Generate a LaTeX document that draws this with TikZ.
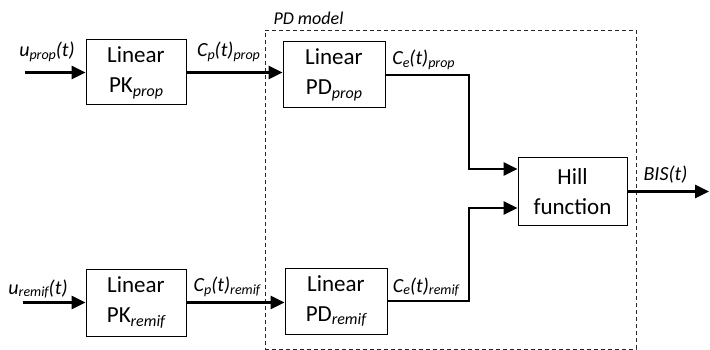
\documentclass[tikz,border=0pt]{standalone}
\usepackage{fontspec}
\setmainfont{Carlito}
\usetikzlibrary{arrows.meta}
\newcommand{\bsub}[1]{\raisebox{-0.35ex}{\fontsize{16}{16}\selectfont\itshape #1}}
\newcommand{\lsub}[1]{\raisebox{-0.3ex}{\fontsize{14}{14}\selectfont #1}}
\begin{document}
\begin{tikzpicture}[x=1pt,y=-1pt,
  blk/.style={draw, line width=1pt, align=center, inner sep=0pt,
    font=\fontsize{23}{30}\selectfont},
  lab/.style={font=\fontsize{20}{24}\selectfont\itshape, inner sep=0pt},
  sig/.style={line width=2.9pt, -{Triangle[length=14pt,width=13pt]}},
  grp/.style={draw=black!85, line width=0.9pt, dash pattern=on 4pt off 3pt, inner sep=0pt}]
\useasboundingbox (0,0) rectangle (710,350);

% PD model group
\node[grp, minimum width=371pt, minimum height=319pt] (pdm) at (450.5,189.5) {};
\node[lab, font=\fontsize{18}{22}\selectfont\itshape] (pdlab) at (308.5,18) {PD model};

% blocks
\node[blk, minimum width=100pt, minimum height=65pt] (pkp) at (136,72.5) {Linear\\PK\bsub{prop}};
\node[blk, minimum width=102pt, minimum height=66pt] (pdp) at (334,75) {Linear\\PD\bsub{prop}};
\node[blk, minimum width=100pt, minimum height=67pt] (pkr) at (136,302.5) {Linear\\PK\bsub{remif}};
\node[blk, minimum width=102pt, minimum height=66pt] (pdr) at (336,301) {Linear\\PD\bsub{remif}};
\node[blk, minimum width=109pt, minimum height=67pt] (hill) at (572.5,191.5) {Hill\\function};

% free ends and junctions
\coordinate (uinp) at (25,72.5);
\coordinate (uinr) at (23,302.5);
\coordinate (jx) at (469,0);
\coordinate (hin1) at (0,169);
\coordinate (hin2) at (0,208);
\coordinate (bis) at (709,191.5);

% connectors
\draw[sig] (uinp) -- (pkp.west);
\draw[sig] (pkp.east) -- (pdp.west |- pkp.east);
\draw[sig] (uinr) -- (pkr.west);
\draw[sig] (pkr.east) -- (pdr.west |- pkr.east);
\draw[sig] (pdp.east) -| (jx |- hin1) -- (hill.west |- hin1);
\draw[sig] (pdr.east) -| (jx |- hin2) -- (hill.west |- hin2);
\draw[sig] (hill.east) -- (bis);

% labels
\node[lab] (lup) at (47,52) {u\lsub{prop}(t)};
\node[lab] (lcpp) at (228.5,52) {C\lsub{p}(t)\lsub{prop}};
\node[lab] (lcep) at (423.5,60) {C\lsub{e}(t)\lsub{prop}};
\node[lab] (lur) at (38,289) {u\lsub{remif}(t)};
\node[lab] (lcpr) at (227,287) {C\lsub{p}(t)\lsub{remif}};
\node[lab] (lcer) at (426,287) {C\lsub{e}(t)\lsub{remif}};
\node[lab] (lbis) at (665.5,175) {BIS(t)};
\end{tikzpicture}
\end{document}
